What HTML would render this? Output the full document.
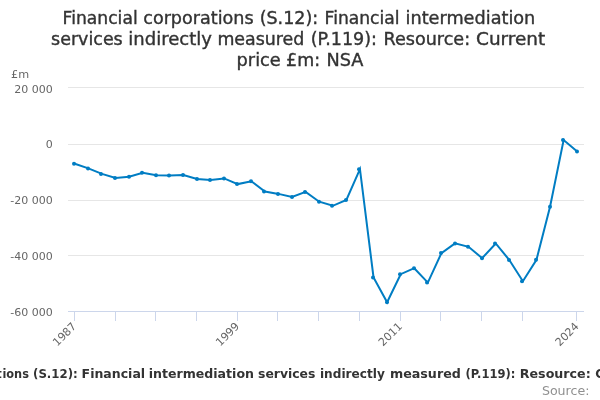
<!DOCTYPE html>
<html><head><meta charset="utf-8"><title>chart</title>
<style>
html,body{margin:0;padding:0;background:#fff;}
body{width:600px;height:400px;overflow:hidden;}
svg{display:block;font-family:"DejaVu Sans","Liberation Sans",Verdana,sans-serif;}
</style></head><body>
<svg width="600" height="400" viewBox="0 0 600 400">
<rect width="600" height="400" fill="#ffffff"/>
<g stroke="#e6e6e6" stroke-width="1" fill="none"><path d="M 68 87.5 H 584"/><path d="M 68 144.5 H 584"/><path d="M 68 200.5 H 584"/><path d="M 68 255.5 H 584"/><path d="M 68 311.5 H 584"/></g>
<path d="M 68 311.5 H 584" stroke="#ccd6eb" stroke-width="1" fill="none"/>
<g stroke="#ccd6eb" stroke-width="1" fill="none"><path d="M 74.5 311 v 10" /><path d="M 115.5 311 v 10" /><path d="M 155.5 311 v 10" /><path d="M 196.5 311 v 10" /><path d="M 237.5 311 v 10" /><path d="M 277.5 311 v 10" /><path d="M 318.5 311 v 10" /><path d="M 359.5 311 v 10" /><path d="M 400.5 311 v 10" /><path d="M 440.5 311 v 10" /><path d="M 481.5 311 v 10" /><path d="M 522.5 311 v 10" /><path d="M 576.5 311 v 10" /></g>
<g font-size="18" fill="#333333" stroke="#333333" stroke-width="0.4">
<text y="24.0"><tspan x="62.52" textLength="75.17" lengthAdjust="spacingAndGlyphs">Financial</tspan> <tspan x="143.23" textLength="110.42" lengthAdjust="spacingAndGlyphs">corporations</tspan> <tspan x="259.65" textLength="58.50" lengthAdjust="spacingAndGlyphs">(S.12):</tspan> <tspan x="324.52" textLength="75.07" lengthAdjust="spacingAndGlyphs">Financial</tspan> <tspan x="405.52" textLength="129.81" lengthAdjust="spacingAndGlyphs">intermediation</tspan></text>
<text y="44.7"><tspan x="51.12" textLength="71.60" lengthAdjust="spacingAndGlyphs">services</tspan> <tspan x="128.29" textLength="83.60" lengthAdjust="spacingAndGlyphs">indirectly</tspan> <tspan x="217.41" textLength="86.98" lengthAdjust="spacingAndGlyphs">measured</tspan> <tspan x="310.65" textLength="66.32" lengthAdjust="spacingAndGlyphs">(P.119):</tspan> <tspan x="383.47" textLength="86.64" lengthAdjust="spacingAndGlyphs">Resource:</tspan> <tspan x="476.01" textLength="69.28" lengthAdjust="spacingAndGlyphs">Current</tspan></text>
<text y="65.6"><tspan x="236.58" textLength="44.20" lengthAdjust="spacingAndGlyphs">price</tspan> <tspan x="286.08" textLength="33.96" lengthAdjust="spacingAndGlyphs">£m:</tspan> <tspan x="326.47" textLength="36.87" lengthAdjust="spacingAndGlyphs">NSA</tspan></text>
</g>
<g font-size="11" fill="#666666"><text y="78"><tspan x="11.10" textLength="18.08" lengthAdjust="spacingAndGlyphs">£m</tspan></text></g>
<g font-size="11" fill="#666666"><text x="52.8" y="92.7" text-anchor="end">20 000</text><text x="52.8" y="148.1" text-anchor="end">0</text><text x="52.8" y="204" text-anchor="end">-20 000</text><text x="52.8" y="260" text-anchor="end">-40 000</text><text x="52.8" y="316" text-anchor="end">-60 000</text></g>
<g font-size="11" fill="#666666"><text x="77.0" y="327" text-anchor="end" transform="rotate(-45 77.0 327)">1987</text><text x="240.0" y="327" text-anchor="end" transform="rotate(-45 240.0 327)">1999</text><text x="402.9" y="327" text-anchor="end" transform="rotate(-45 402.9 327)">2011</text><text x="579.5" y="327" text-anchor="end" transform="rotate(-45 579.5 327)">2024</text></g>
<path d="M 74.79 163.8 L 88.37 168.4 L 101.95 173.9 L 115.53 178.0 L 129.11 176.8 L 142.68 172.7 L 156.26 175.3 L 169.84 175.5 L 183.42 175.0 L 197.0 178.9 L 210.58 180.0 L 224.16 178.4 L 237.74 184.1 L 251.32 181.2 L 264.89 191.5 L 278.47 193.9 L 292.05 197.0 L 305.63 191.9 L 319.21 201.7 L 332.79 205.8 L 346.37 199.9 L 359.95 169.2 L 373.53 277.4 L 387.11 302.3 L 400.68 274.2 L 414.26 268.2 L 427.84 282.6 L 441.42 253.1 L 455.0 243.4 L 468.58 246.85 L 482.16 258.15 L 495.74 243.45 L 509.32 260.0 L 522.89 281.2 L 536.47 259.75 L 550.05 206.7 L 563.63 140.1 L 577.21 151.6" stroke="#007dc3" stroke-width="2" fill="none" stroke-linejoin="miter" stroke-linecap="round"/>
<g fill="#007dc3"><circle cx="74" cy="163.8" r="2"/><circle cx="88" cy="168.4" r="2"/><circle cx="101" cy="173.9" r="2"/><circle cx="115" cy="178.0" r="2"/><circle cx="129" cy="176.8" r="2"/><circle cx="142" cy="172.7" r="2"/><circle cx="156" cy="175.3" r="2"/><circle cx="169" cy="175.5" r="2"/><circle cx="183" cy="175.0" r="2"/><circle cx="197" cy="178.9" r="2"/><circle cx="210" cy="180.0" r="2"/><circle cx="224" cy="178.4" r="2"/><circle cx="237" cy="184.1" r="2"/><circle cx="251" cy="181.2" r="2"/><circle cx="264" cy="191.5" r="2"/><circle cx="278" cy="193.9" r="2"/><circle cx="292" cy="197.0" r="2"/><circle cx="305" cy="191.9" r="2"/><circle cx="319" cy="201.7" r="2"/><circle cx="332" cy="205.8" r="2"/><circle cx="346" cy="199.9" r="2"/><circle cx="359" cy="169.2" r="2"/><circle cx="373" cy="277.4" r="2"/><circle cx="387" cy="302.3" r="2"/><circle cx="400" cy="274.2" r="2"/><circle cx="414" cy="268.2" r="2"/><circle cx="427" cy="282.6" r="2"/><circle cx="441" cy="253.1" r="2"/><circle cx="455" cy="243.4" r="2"/><circle cx="468" cy="246.85" r="2"/><circle cx="482" cy="258.15" r="2"/><circle cx="495" cy="243.45" r="2"/><circle cx="509" cy="260.0" r="2"/><circle cx="522" cy="281.2" r="2"/><circle cx="536" cy="259.75" r="2"/><circle cx="550" cy="206.7" r="2"/><circle cx="563" cy="140.1" r="2"/><circle cx="577" cy="151.6" r="2"/></g>
<g>
<path d="M -117 374 h 16" stroke="#007dc3" stroke-width="2"/>
<g font-size="12" font-weight="bold" fill="#333333"><text y="377.8"><tspan x="-56.10" textLength="57.88" lengthAdjust="spacingAndGlyphs">corporat</tspan><tspan x="2.44" textLength="26.49" lengthAdjust="spacingAndGlyphs">ions</tspan> <tspan x="33.06" textLength="44.68" lengthAdjust="spacingAndGlyphs">(S.12):</tspan> <tspan x="81.62" textLength="63.53" lengthAdjust="spacingAndGlyphs">Financial</tspan> <tspan x="148.73" textLength="105.25" lengthAdjust="spacingAndGlyphs">intermediation</tspan> <tspan x="258.04" textLength="57.32" lengthAdjust="spacingAndGlyphs">services</tspan> <tspan x="319.97" textLength="64.82" lengthAdjust="spacingAndGlyphs">indirectly</tspan> <tspan x="389.94" textLength="70.91" lengthAdjust="spacingAndGlyphs">measured</tspan> <tspan x="465.47" textLength="49.96" lengthAdjust="spacingAndGlyphs">(P.119):</tspan> <tspan x="519.81" textLength="70.90" lengthAdjust="spacingAndGlyphs">Resource:</tspan> <tspan x="595.36" textLength="51.61" lengthAdjust="spacingAndGlyphs">Current</tspan></text></g>
</g>
<g font-size="12" fill="#909090"><text y="394.6"><tspan x="541.91" textLength="47.55" lengthAdjust="spacingAndGlyphs">Source:</tspan></text></g>
</svg>
</body></html>
